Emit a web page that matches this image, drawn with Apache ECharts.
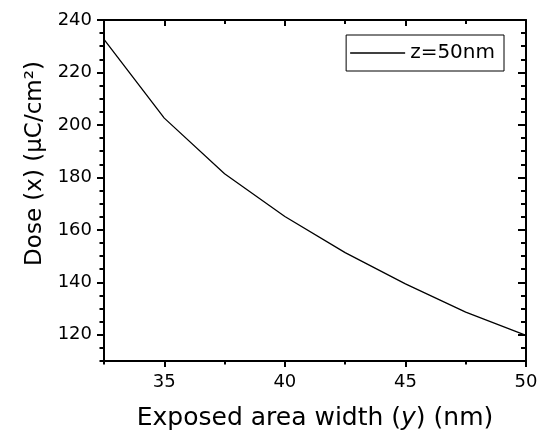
<!DOCTYPE html>
<html>
<head>
<meta charset="utf-8">
<script src="https://cdn.jsdelivr.net/npm/echarts@6/dist/echarts.min.js"></script>
<style>
  html, body { margin: 0; padding: 0; background: #fff; }
  #chart { width: 538px; height: 434px; }
</style>
</head>
<body>
<div id="chart"></div>
<script>
// data
let widths = [32.5, 35, 37.5, 40, 42.5, 45, 47.5, 50];
let doses = [232.6, 202.6, 181.4, 165.1, 151.3, 139.4, 128.6, 119.8];
let seriesName = 'z=50nm';

// ticks
let xMajor = [35, 40, 45, 50];
let xMinor = [32.5, 37.5, 42.5, 47.5];
let yMajor = [120, 140, 160, 180, 200, 220, 240];
let yMinor = [110, 115, 125, 130, 135, 145, 150, 155, 165, 170, 175, 185, 190, 195, 205, 210, 215, 225, 230, 235];

let font = 'DejaVu Sans';

function tickAxis(pos, min, max, ticks, len, inside, showLine, labels)
{
    let ax = {
        type: 'value',
        position: pos,
        min: min,
        max: max,
        splitLine: { show: false },
        axisLine: { show: showLine, onZero: false, lineStyle: { color: '#000', width: 2 } },
        axisTick: {
            show: true,
            inside: inside,
            length: len,
            customValues: ticks,
            lineStyle: { color: '#000', width: 2 }
        },
        axisLabel: { show: false }
    };
    if (labels)
    {
        ax.axisLabel = {
            show: true,
            customValues: labels,
            color: '#000',
            fontFamily: font,
            fontSize: 18,
            margin: 12
        };
    }
    return ax;
}

let chart = echarts.init(document.getElementById('chart'));

let points = [];
for (let i = 0; i < widths.length; i++)
{
    points.push([widths[i], doses[i]]);
}

let xBottom = tickAxis('bottom', 32.5, 50, xMajor, 6, false, true, xMajor);
xBottom.name = 'Exposed area width ({i|y}) (nm)';
xBottom.nameLocation = 'middle';
xBottom.nameGap = 45;
xBottom.nameTextStyle = {
    color: '#000', fontFamily: font, fontSize: 25,
    rich: { i: { fontStyle: 'italic', fontFamily: font, fontSize: 25, color: '#000' } }
};

let yLeft = tickAxis('left', 110, 240, yMajor, 7, false, true, yMajor);
yLeft.name = 'Dose (x) (\u03bcC/cm\u00b2)';
yLeft.nameLocation = 'middle';
yLeft.nameGap = 57;
yLeft.nameTextStyle = {
    color: '#000', fontFamily: font, fontSize: 23,
    padding: [0, 0, 0, 54]
};

let option = {
    animation: false,
    backgroundColor: '#fff',
    grid: {
        left: 104,
        right: 12,
        top: 20,
        bottom: 73,
        containLabel: false,
        outerBoundsMode: 'none'
    },
    legend: {
        data: [seriesName],
        right: 34,
        top: 35,
        orient: 'vertical',
        icon: 'rect',
        borderColor: '#000',
        borderWidth: 1,
        borderRadius: 0,
        padding: [8, 9, 8, 4],
        itemWidth: 55,
        itemHeight: 1.3,
        itemGap: 0,
        textStyle: { color: '#000', fontFamily: font, fontSize: 20 }
    },
    xAxis: [
        xBottom,
        tickAxis('bottom', 32.5, 50, xMinor, 3.5, false, false, null),
        tickAxis('top', 32.5, 50, xMajor, 6, true, true, null),
        tickAxis('top', 32.5, 50, xMinor, 4, true, false, null)
    ],
    yAxis: [
        yLeft,
        tickAxis('left', 110, 240, yMinor, 4.5, false, false, null),
        tickAxis('right', 110, 240, yMajor, 8, true, true, null),
        tickAxis('right', 110, 240, yMinor, 5, true, false, null)
    ],
    series: [{
        name: seriesName,
        type: 'line',
        xAxisIndex: 0,
        yAxisIndex: 0,
        symbol: 'none',
        lineStyle: { color: '#000', width: 1.3 },
        itemStyle: { color: '#000' },
        data: points
    }]
};

chart.setOption(option);
</script>
</body>
</html>
